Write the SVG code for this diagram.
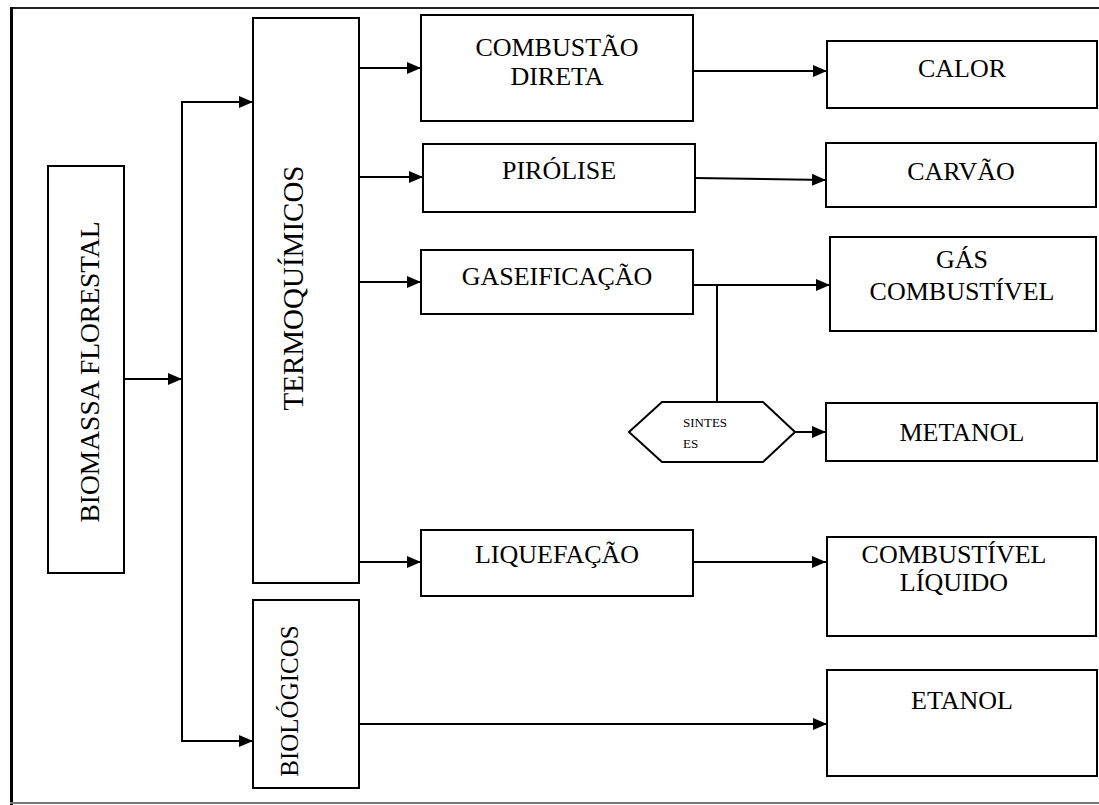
<svg xmlns="http://www.w3.org/2000/svg" width="1099" height="805" viewBox="0 0 1099 805">
  <defs>
    <marker id="arrow" markerWidth="14" markerHeight="12" refX="14" refY="6" orient="auto" markerUnits="userSpaceOnUse">
      <path d="M0,0 L14,6 L0,12 Z" fill="#000"/>
    </marker>
    <style>
      .box { fill: #fff; stroke: #000; stroke-width: 2; }
      .lbl { font-family: "Liberation Serif", "Times New Roman", serif; font-size: 26px; fill: #000; text-anchor: middle; }
      .vlbl { font-family: "Liberation Serif", "Times New Roman", serif; fill: #000; text-anchor: middle; }
      .small { font-family: "Liberation Serif", "Times New Roman", serif; font-size: 13px; fill: #000; }
      .conn { fill: none; stroke: #000; stroke-width: 2; }
      .arr { marker-end: url(#arrow); }
    </style>
  </defs>

  <rect x="0" y="0" width="1099" height="805" fill="#fff"/>

  <!-- page frame -->
  <g id="frame">
    <line x1="10" y1="8" x2="1099" y2="8" stroke="#222" stroke-width="2"/>
    <line x1="11.5" y1="7" x2="11.5" y2="805" stroke="#000" stroke-width="3"/>
    <line x1="10" y1="803" x2="1099" y2="803" stroke="#777" stroke-width="2"/>
  </g>

  <!-- connectors -->
  <g id="connectors">
    <line class="conn arr" x1="124" y1="379" x2="182" y2="379"/>
    <line class="conn" x1="182" y1="101" x2="182" y2="742"/>
    <line class="conn arr" x1="181" y1="102" x2="253" y2="102"/>
    <line class="conn arr" x1="181" y1="741" x2="253" y2="741"/>

    <line class="conn arr" x1="359" y1="68" x2="421" y2="68"/>
    <line class="conn arr" x1="359" y1="177" x2="423" y2="177"/>
    <line class="conn arr" x1="359" y1="282" x2="421" y2="282"/>
    <line class="conn arr" x1="359" y1="562" x2="421" y2="562"/>

    <line class="conn arr" x1="693" y1="71" x2="827" y2="71"/>
    <line class="conn arr" x1="695" y1="178" x2="826" y2="180"/>
    <line class="conn arr" x1="693" y1="285" x2="830" y2="285"/>
    <line class="conn" x1="717" y1="285" x2="717" y2="402"/>
    <line class="conn arr" x1="795" y1="432" x2="826" y2="432"/>
    <line class="conn arr" x1="693" y1="562" x2="826" y2="562"/>
    <line class="conn arr" x1="359" y1="724" x2="827" y2="724"/>
  </g>

  <g id="biomassa">
    <rect class="box" x="48" y="166" width="76" height="407"/>
    <text class="vlbl" style="font-size:27.5px" transform="translate(99 372) rotate(-90)">BIOMASSA FLORESTAL</text>
  </g>

  <g id="termoquimicos">
    <rect class="box" x="253" y="18" width="106" height="565"/>
    <text class="vlbl" style="font-size:29px" transform="translate(303 288) rotate(-90)">TERMOQUÍMICOS</text>
  </g>

  <g id="biologicos">
    <rect class="box" x="253" y="600" width="106" height="188"/>
    <text class="vlbl" style="font-size:25px" transform="translate(298 701) rotate(-90)">BIOLÓGICOS</text>
  </g>

  <g id="combustao-direta">
    <rect class="box" x="421" y="15" width="272" height="106"/>
    <text class="lbl" x="557" y="56">COMBUSTÃO</text>
    <text class="lbl" x="557" y="85">DIRETA</text>
  </g>

  <g id="pirolise">
    <rect class="box" x="423" y="144" width="272" height="68"/>
    <text class="lbl" x="559" y="179">PIRÓLISE</text>
  </g>

  <g id="gaseificacao">
    <rect class="box" x="421" y="250" width="272" height="64"/>
    <text class="lbl" x="557" y="285">GASEIFICAÇÃO</text>
  </g>

  <g id="liquefacao">
    <rect class="box" x="421" y="530" width="272" height="66"/>
    <text class="lbl" x="557" y="563">LIQUEFAÇÃO</text>
  </g>

  <g id="sinteses">
    <polygon class="box" points="629,432 662,402 763,402 795,432 763,462 662,462"/>
    <text class="small" x="683" y="427">SINTES</text>
    <text class="small" x="683" y="448">ES</text>
  </g>

  <g id="calor">
    <rect class="box" x="827" y="41" width="270" height="67"/>
    <text class="lbl" x="962" y="77">CALOR</text>
  </g>

  <g id="carvao">
    <rect class="box" x="826" y="143" width="270" height="64"/>
    <text class="lbl" x="961" y="180">CARVÃO</text>
  </g>

  <g id="gas-combustivel">
    <rect class="box" x="830" y="237" width="266" height="94"/>
    <text class="lbl" x="962" y="268">GÁS</text>
    <text class="lbl" x="962" y="300">COMBUSTÍVEL</text>
  </g>

  <g id="metanol">
    <rect class="box" x="826" y="403" width="271" height="58"/>
    <text class="lbl" x="962" y="441">METANOL</text>
  </g>

  <g id="combustivel-liquido">
    <rect class="box" x="827" y="537" width="269" height="99"/>
    <text class="lbl" x="954" y="563">COMBUSTÍVEL</text>
    <text class="lbl" x="954" y="591">LÍQUIDO</text>
  </g>

  <g id="etanol">
    <rect class="box" x="827" y="670" width="270" height="106"/>
    <text class="lbl" x="962" y="709">ETANOL</text>
  </g>
</svg>
